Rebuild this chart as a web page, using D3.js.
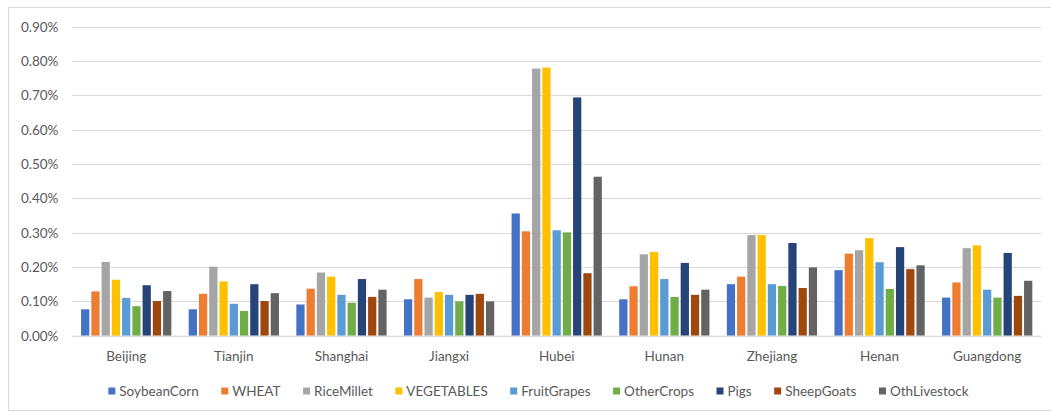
<!DOCTYPE html>
<html>
<head>
<meta charset="utf-8">
<script src="https://cdn.jsdelivr.net/npm/d3@7"></script>
<style>
  html, body { margin: 0; padding: 0; background: #fff; }
  svg { display: block; }
  text { font-family: Lato, "Liberation Sans", Arial, sans-serif; fill: #595959; }
</style>
</head>
<body>
<svg id="chart" width="1051" height="412"></svg>
<script>
// Regions shown along the x axis
const categories = ["Beijing", "Tianjin", "Shanghai", "Jiangxi", "Hubei", "Hunan", "Zhejiang", "Henan", "Guangdong"];

// Series names (legend order)
const seriesNames = ["SoybeanCorn", "WHEAT", "RiceMillet", "VEGETABLES", "FruitGrapes", "OtherCrops", "Pigs", "SheepGoats", "OthLivestock"];

// Values in percent, one entry per region
const soybeanCorn  = [0.077, 0.077, 0.091, 0.106, 0.356, 0.106, 0.150, 0.191, 0.111];
const wheat        = [0.129, 0.122, 0.137, 0.165, 0.304, 0.144, 0.172, 0.239, 0.155];
const riceMillet   = [0.215, 0.201, 0.184, 0.111, 0.778, 0.237, 0.293, 0.249, 0.255];
const vegetables   = [0.163, 0.158, 0.172, 0.127, 0.781, 0.244, 0.293, 0.284, 0.263];
const fruitGrapes  = [0.110, 0.093, 0.119, 0.119, 0.307, 0.165, 0.150, 0.214, 0.134];
const otherCrops   = [0.086, 0.072, 0.096, 0.100, 0.301, 0.113, 0.145, 0.136, 0.111];
const pigs         = [0.147, 0.150, 0.165, 0.119, 0.694, 0.212, 0.270, 0.258, 0.241];
const sheepGoats   = [0.101, 0.101, 0.113, 0.122, 0.182, 0.119, 0.139, 0.194, 0.116];
const othLivestock = [0.130, 0.124, 0.134, 0.100, 0.463, 0.134, 0.199, 0.205, 0.160];

// Y axis ticks (percent)
const yTicks = [0, 0.1, 0.2, 0.3, 0.4, 0.5, 0.6, 0.7, 0.8, 0.9];

const seriesValues = [soybeanCorn, wheat, riceMillet, vegetables, fruitGrapes, otherCrops, pigs, sheepGoats, othLivestock];
const colors = ["#4472C4", "#ED7D31", "#A5A5A5", "#FFC000", "#5B9BD5", "#70AD47", "#264478", "#9E480E", "#636363"];

const svg = d3.select("#chart");
const chartFrame = { x: 8.5, y: 7.5, w: 1060, h: 403 };

// Outer chart frame
svg.append("rect")
  .attr("x", chartFrame.x).attr("y", chartFrame.y)
  .attr("width", chartFrame.w).attr("height", chartFrame.h)
  .attr("fill", "none").attr("stroke", "#D9D9D9").attr("stroke-width", 1);

const plot = { left: 72.4, right: 1041, top: 26.7, bottom: 335.7 };

const y = d3.scaleLinear().domain([0, 0.9]).range([plot.bottom, plot.top]);

const x0 = d3.scaleBand().domain(categories).range([plot.left, plot.right]).padding(0);
const step = x0.step();
const gapHalf = step * 0.75 / 10.5;   // gap width 150% of one bar slot, split on both sides
const x1 = d3.scaleBand().domain(seriesNames).range([gapHalf, step - gapHalf]).padding(0);

// Gridlines
svg.append("g")
  .selectAll("line")
  .data(yTicks)
  .join("line")
  .attr("x1", plot.left).attr("x2", plot.right)
  .attr("y1", d => Math.round(y(d)) + 0.5)
  .attr("y2", d => Math.round(y(d)) + 0.5)
  .attr("stroke", "#D9D9D9").attr("stroke-width", 1);

// Y axis labels
const yAxis = d3.axisLeft(y).tickValues(yTicks).tickSize(0).tickPadding(14)
  .tickFormat(d => d.toFixed(2) + "%");
const yg = svg.append("g").attr("transform", `translate(${plot.left},0)`).call(yAxis);
yg.select(".domain").remove();
yg.selectAll("text").style("font-size", "13.5px").attr("fill", "#595959")
  .style("font-family", "Lato, 'Liberation Sans', Arial, sans-serif");

// Bars
const groups = svg.append("g")
  .selectAll("g")
  .data(categories)
  .join("g")
  .attr("transform", d => `translate(${x0(d)},0)`);

groups.selectAll("rect")
  .data((c, ci) => seriesNames.map((s, si) => ({ s, si, v: seriesValues[si][ci] })))
  .join("rect")
  .attr("x", d => x1(d.s) + 1)
  .attr("width", x1.bandwidth() - 2)
  .attr("y", d => y(d.v))
  .attr("height", d => y(0) - y(d.v))
  .attr("fill", d => colors[d.si]);

// X axis: baseline and category labels
const xAxis = d3.axisBottom(x0).tickSize(0).tickPadding(16);
const xg = svg.append("g").attr("transform", `translate(0,${plot.bottom})`).call(xAxis);
xg.select(".domain").attr("stroke", "#D9D9D9");
xg.selectAll("text").style("font-size", "13.5px").attr("fill", "#595959")
  .style("font-family", "Lato, 'Liberation Sans', Arial, sans-serif");

// Legend, laid out in a row and centred on the chart frame
const legend = svg.append("g").attr("transform", "translate(0,396)");
const items = legend.selectAll("g")
  .data(seriesNames)
  .join("g");
items.append("rect")
  .attr("y", -8.5).attr("width", 7).attr("height", 7)
  .attr("fill", (d, i) => colors[i]);
items.append("text")
  .attr("x", 11)
  .style("font-size", "13.5px")
  .text(d => d);

const itemGap = 22.5;
let cx = 0;
const offsets = [];
items.each(function () {
  offsets.push(cx);
  cx += 11 + this.querySelector("text").getComputedTextLength() + itemGap;
});
const totalW = cx - itemGap;
const startX = chartFrame.x + chartFrame.w / 2 - totalW / 2;
items.attr("transform", (d, i) => `translate(${startX + offsets[i]},0)`);
</script>
</body>
</html>
